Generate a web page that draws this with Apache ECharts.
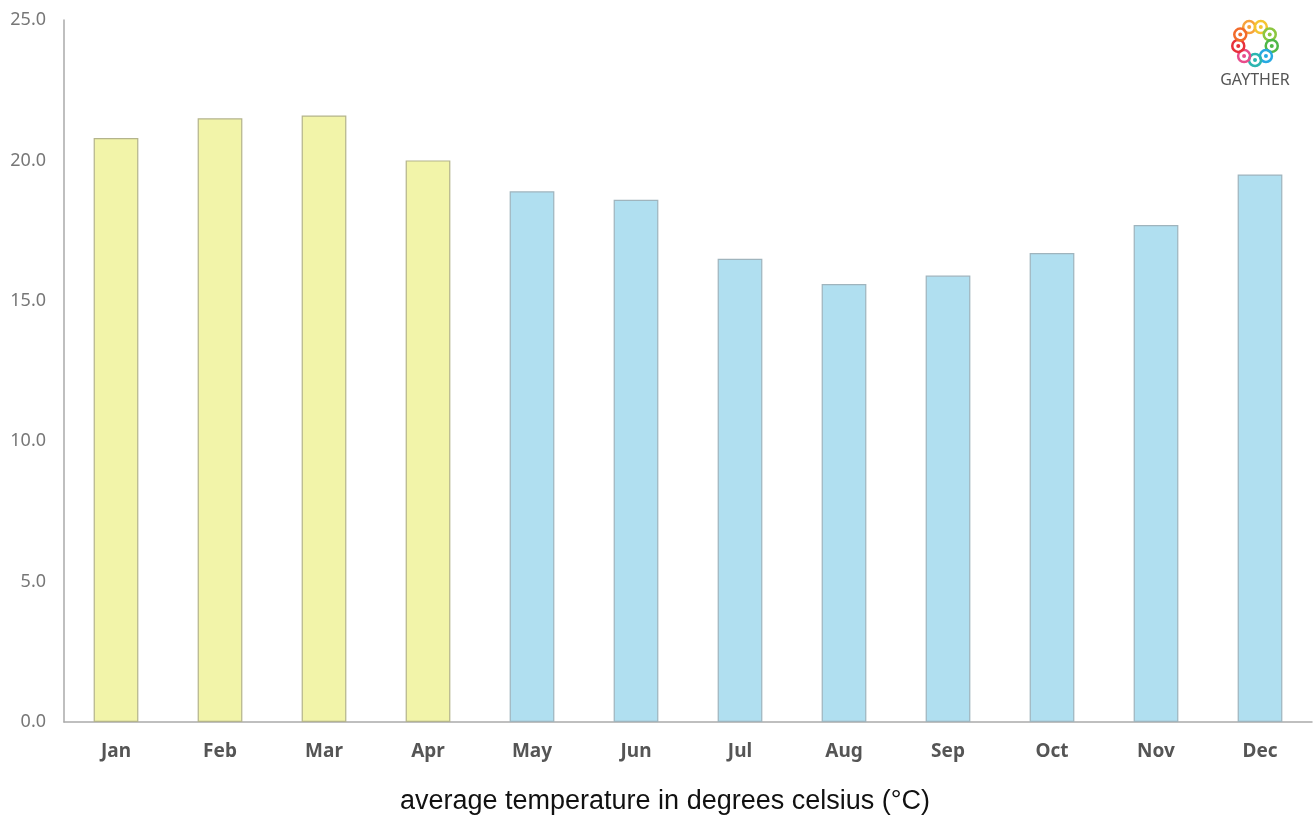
<!DOCTYPE html>
<html>
<head>
<meta charset="utf-8">
<style>html,body{margin:0;padding:0;background:#fff;}#c{width:1313px;height:817px;}</style>
<script src="https://cdn.jsdelivr.net/npm/echarts@6/dist/echarts.min.js"></script>
</head>
<body>
<div id="c"></div>
<script>
var months = ['Jan','Feb','Mar','Apr','May','Jun','Jul','Aug','Sep','Oct','Nov','Dec'];
var temps = [20.8, 21.5, 21.6, 20.0, 18.9, 18.6, 16.5, 15.6, 15.9, 16.7, 17.7, 19.5];
var season = ['s','s','s','s','w','w','w','w','w','w','w','w'];
var yTicks = [0, 5, 10, 15, 20, 25];
var logoColors = ['#f7a23b','#f4c431','#8cc63f','#4fb848','#27a9e1','#2bb6b0','#e84c8b','#e8303a','#f26b2a'];

var chart = echarts.init(document.getElementById('c'));
var ringEls = [];
for (var i = 0; i < logoColors.length; i++) {
  var a = -Math.PI/2 - 0.35 + i * 2*Math.PI/logoColors.length;
  var cx = 1255+Math.cos(a)*17, cy = 43+Math.sin(a)*17;
  ringEls.push({type:'circle', shape:{cx:cx, cy:cy, r:6},
    style:{fill:'none', stroke:logoColors[i], lineWidth:2.5}});
  ringEls.push({type:'circle', shape:{cx:cx, cy:cy, r:2},
    style:{fill:logoColors[i]}});
}
ringEls.push({type:'text', style:{text:'GAYTHER', x:1255, y:80, textAlign:'center', textVerticalAlign:'middle',
  font:'16px "Noto Sans"', fill:'#555'}});

chart.setOption({
  animation:false,
  grid:{left:64, right:1, top:20, bottom:95, containLabel:false, outerBoundsMode:'none'},
  xAxis:{
    type:'category', data:months,
    axisLine:{lineStyle:{color:'#aaa', width:1.5}},
    axisTick:{show:false},
    axisLabel:{color:'#555', fontWeight:'bold', fontSize:19, fontFamily:'Noto Sans', margin:20},
    name:'average temperature in degrees celsius (°C)',
    nameLocation:'middle', nameGap:66,
    nameTextStyle:{color:'#111', fontSize:27, fontFamily:'Liberation Sans', padding:[0,46,0,0]}
  },
  yAxis:{
    type:'value', min:yTicks[0], max:yTicks[yTicks.length-1], interval:5,
    axisLine:{show:true, lineStyle:{color:'#aaa', width:1.5}},
    axisTick:{show:false},
    splitLine:{show:false},
    axisLabel:{color:'#777', fontSize:18, fontFamily:'Noto Sans', margin:18,
      formatter:function(v){return v.toFixed(1);}}
  },
  series:[{
    type:'bar', barWidth:'43%',
    data: temps.map(function(v,i){
      var s = season[i]==='s';
      return {value:v, itemStyle:{color: s ? '#f2f4a9' : '#b0dff0', borderColor: s ? '#b4b48c' : '#9fb4bd', borderWidth:1.2}};
    })
  }],
  graphic: ringEls
});
</script>
</body>
</html>
